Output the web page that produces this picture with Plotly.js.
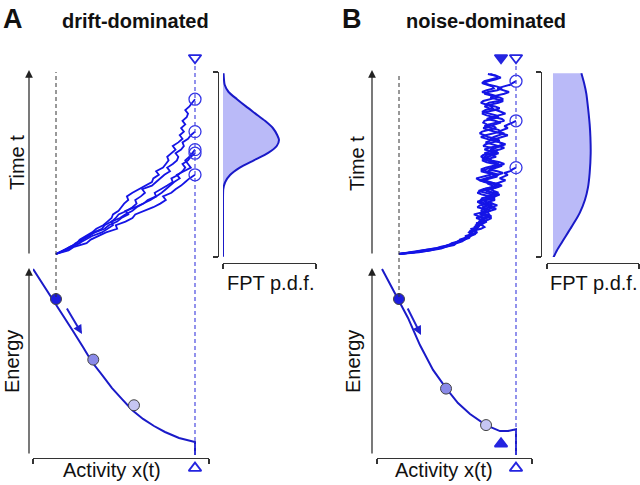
<!DOCTYPE html>
<html><head><meta charset="utf-8">
<script src="https://cdn.plot.ly/plotly-3.0.1.min.js"></script>
<style>html,body{margin:0;padding:0;background:#fff}#chart{width:640px;height:485px}</style>
</head><body><div id="chart"></div>
<script>
// ---------------- DATA ----------------
// time grids (normalised time, 1 = top of the time axis)
const tA = [0,0.02,0.04,0.06,0.08,0.10,0.12,0.14,0.16,0.18,0.20,0.22,0.24,0.26,0.28,0.30,0.32,0.34,0.36,0.38,0.40,0.42,0.44,0.46,0.48,0.50,0.52,0.54,0.56,0.58,0.60,0.62,0.64,0.66,0.68,0.70,0.72,0.74,0.76,0.78,0.80,0.82,0.84,0.86];
const tB = [0,0.01,0.02,0.03,0.04,0.05,0.06,0.07,0.08,0.09,0.10,0.11,0.12,0.13,0.14,0.15,0.16,0.17,0.18,0.19,0.20,0.21,0.22,0.23,0.24,0.25,0.26,0.27,0.28,0.29,0.30,0.31,0.32,0.33,0.34,0.35,0.36,0.37,0.38,0.39,0.40,0.41,0.42,0.43,0.44,0.45,0.46,0.47,0.48,0.49,0.50,0.51,0.52,0.53,0.54,0.55,0.56,0.57,0.58,0.59,0.60,0.61,0.62,0.63,0.64,0.65,0.66,0.67,0.68,0.69,0.70,0.71,0.72,0.73,0.74,0.75,0.76,0.77,0.78,0.79,0.80,0.81,0.82,0.83,0.84,0.85,0.86,0.87,0.88,0.89,0.90,0.91,0.92,0.93,0.94,0.95,0.96,0.97,0.98,0.99,1.00];

// drift-dominated activity traces (0 = start, 1 = threshold)
const walkA1 = [0,0.09,0.13,0.22,0.25,0.31,0.36,0.44,0.43,0.50,0.55,0.57,0.64,0.70,0.75,0.79,0.77,0.83,0.86,0.90,0.93,0.96,1.0];
const walkA2 = [0,0.07,0.12,0.17,0.21,0.26,0.33,0.37,0.41,0.40,0.46,0.50,0.55,0.58,0.63,0.66,0.72,0.71,0.76,0.80,0.84,0.83,0.88,0.91,0.93,0.91,0.95,0.97,1.0];
const walkA3 = [0,0.05,0.11,0.14,0.19,0.24,0.28,0.35,0.38,0.44,0.47,0.52,0.50,0.57,0.63,0.68,0.72,0.76,0.79,0.82,0.85,0.89,0.87,0.92,0.97,0.95,0.93,0.96,0.98,1.0];
const walkA4 = [0,0.06,0.10,0.17,0.19,0.24,0.27,0.33,0.35,0.40,0.43,0.45,0.51,0.55,0.58,0.57,0.61,0.64,0.62,0.69,0.72,0.75,0.78,0.82,0.80,0.84,0.87,0.88,0.86,0.90,0.92,0.91,0.95,0.97,1.0];
const walkA5 = [0,0.05,0.09,0.15,0.17,0.22,0.26,0.29,0.34,0.37,0.40,0.41,0.45,0.47,0.49,0.52,0.51,0.55,0.60,0.65,0.69,0.70,0.74,0.72,0.77,0.79,0.81,0.80,0.83,0.86,0.84,0.88,0.91,0.89,0.92,0.90,0.93,0.91,0.94,0.95,0.93,0.96,0.98,1.0];

// noise-dominated activity traces
const walkB1 = [0,0.15,0.26,0.33,0.40,0.44,0.49,0.52,0.56,0.58,
  0.61,0.63,0.62,0.66,0.64,0.68,0.66,0.70,0.73,0.69,
  0.72,0.76,0.71,0.74,0.78,0.75,0.71,0.77,0.80,0.76,
  0.82,0.79,0.74,0.80,0.85,0.81,0.78,0.84,0.88,0.83,
  0.87,0.91,0.86,0.89,0.93,0.90,0.95,0.97,1.0];
const walkB2 = [0,0.13,0.24,0.32,0.38,0.43,0.47,0.51,0.54,0.57,
  0.59,0.62,0.60,0.64,0.67,0.65,0.69,0.72,0.68,0.71,
  0.75,0.79,0.74,0.70,0.73,0.77,0.81,0.78,0.74,0.69,
  0.72,0.76,0.80,0.84,0.79,0.75,0.78,0.83,0.87,0.82,
  0.77,0.73,0.76,0.81,0.85,0.80,0.76,0.79,0.84,0.88,
  0.84,0.79,0.75,0.71,0.76,0.80,0.85,0.82,0.78,0.83,
  0.87,0.91,0.86,0.82,0.78,0.81,0.86,0.90,0.85,0.89,
  0.93,0.90,0.94,0.97,1.0];
const walkB3 = [0,0.17,0.26,0.36,0.40,0.47,0.49,0.54,0.56,0.60,
  0.61,0.65,0.66,0.64,0.70,0.73,0.71,0.66,0.70,0.76,
  0.79,0.75,0.69,0.72,0.78,0.83,0.80,0.74,0.70,0.67,
  0.71,0.78,0.82,0.86,0.81,0.75,0.72,0.77,0.84,0.80,
  0.73,0.69,0.74,0.81,0.85,0.89,0.84,0.77,0.81,0.87,
  0.82,0.75,0.71,0.76,0.83,0.79,0.73,0.78,0.86,0.90,
  0.85,0.79,0.74,0.78,0.84,0.88,0.93,0.87,0.80,0.76,
  0.72,0.77,0.83,0.87,0.82,0.75,0.79,0.86,0.91,0.87,
  0.83,0.77,0.73,0.78,0.85,0.89,0.84,0.78,0.83,0.90,
  0.94,0.89,0.84,0.89,0.95,0.97,1.0];
const walkB4 = [0,0.13,0.20,0.31,0.36,0.43,0.45,0.51,0.52,0.57,
  0.57,0.62,0.60,0.61,0.67,0.65,0.66,0.72,0.75,0.71,
  0.66,0.70,0.77,0.76,0.70,0.72,0.79,0.84,0.80,0.73,
  0.75,0.82,0.78,0.71,0.67,0.70,0.77,0.83,0.87,0.84,
  0.76,0.72,0.77,0.84,0.82,0.77,0.70,0.74,0.79,0.86,
  0.90,0.86,0.79,0.77,0.73,0.75,0.83,0.80,0.73,0.77,
  0.85,0.89,0.86,0.80,0.74,0.70,0.74,0.80,0.87,0.85,
  0.79,0.73,0.77,0.84,0.90,0.88,0.81,0.75,0.71,0.75,
  0.82,0.86,0.82,0.74,0.77,0.85,0.89,0.86,0.79,0.73,
  0.76,0.84,0.88,0.84,0.77,0.72,0.76,0.83,0.87,0.83,0.76];
const walkB5 = [0,0.11,0.23,0.30,0.39,0.42,0.48,0.50,0.56,0.57,
  0.61,0.62,0.67,0.63,0.62,0.68,0.69,0.66,0.73,0.71,
  0.72,0.68,0.64,0.70,0.74,0.73,0.67,0.69,0.77,0.75,
  0.70,0.71,0.78,0.80,0.74,0.68,0.72,0.79,0.80,0.76,
  0.75,0.69,0.66,0.71,0.78,0.79,0.75,0.70,0.74,0.81,
  0.85,0.82,0.78,0.77,0.70,0.72,0.78,0.84,0.80,0.79,
  0.72,0.74,0.80,0.86,0.83,0.76,0.73,0.69,0.71,0.77,
  0.83,0.81,0.75,0.72,0.73,0.79,0.85,0.83,0.76,0.71,
  0.74,0.80,0.79,0.74,0.70,0.72,0.78,0.84,0.82,0.77,
  0.71,0.75,0.81,0.80,0.76,0.71,0.73,0.79,0.84,0.83,0.78];

// first-passage events (threshold crossings)
const crossA_t = [0.44,0.56,0.58,0.68,0.86];
const crossB_t = [0.48,0.74,0.96];
const threshold = 1;
const startX = 0;

// first-passage-time densities
const fptA_t   = [-0.015,0.10,0.20,0.30,0.36,0.40,0.44,0.48,0.52,0.56,0.60,0.633,0.66,0.70,0.74,0.78,0.82,0.86,0.90,0.94,1.004];
const fptA_pdf = [0,0,0,0,0.005,0.04,0.13,0.30,0.55,0.80,0.96,1.0,0.97,0.89,0.75,0.58,0.41,0.25,0.10,0.03,0.01];
const fptB_t   = [-0.024,0.02,0.06,0.10,0.14,0.18,0.23,0.30,0.37,0.45,0.56,0.65,0.72,0.80,0.89,0.95,1.004];
const fptB_pdf = [0,0.07,0.15,0.23,0.31,0.39,0.48,0.57,0.625,0.655,0.673,0.668,0.655,0.63,0.596,0.555,0.507];

// energy landscapes
const energyA_x = [-0.165,-0.094,-0.022,0.050,0.122,0.194,0.259,0.331,0.403,0.475,0.547,0.626,0.705,0.784,0.885,1.0,1.0];
const energyA_E = [0.995,0.914,0.834,0.749,0.663,0.578,0.497,0.428,0.358,0.299,0.241,0.193,0.155,0.123,0.091,0.070,0];
const energyB_x = [-0.145,-0.077,-0.009,0.077,0.179,0.291,0.402,0.504,0.607,0.744,0.863,0.932,1.0,1.0];
const energyB_E = [0.995,0.914,0.834,0.733,0.588,0.455,0.358,0.278,0.219,0.160,0.128,0.128,0.138,0];

// balls on the landscape
const ballsA_x = [0,0.268,0.561];
const ballsA_E = [0.834,0.51,0.266];
const ballsB_x = [0,0.402,0.744];
const ballsB_E = [0.834,0.355,0.160];
const ballColors = ['#1c1ce0','#8a8ae8','#c6c6f2'];

// drift arrows (tail -> head) in landscape coordinates
const driftA = {x0:0.072, E0:0.791, x1:0.187, E1:0.647};
const driftB = {x0:0.068, E0:0.791, x1:0.188, E1:0.642};

// attractor (noise-dominated) and arrow-marker levels
const attractorB_x = 0.872;
const attractorB_E = 0.06;
const markerTopT = 1.09;
const markerBottomE = -0.07;

// ---------------- LAYOUT HELPERS ----------------
const W = 640, H = 485;
const X = p => p / W;
const Y = p => 1 - p / H;

const blue = '#1414e6';
const curveBlue = '#1a1ac8';
const font = "Arial, 'Liberation Sans', sans-serif";

function hidden(extra){ return Object.assign({visible:false, fixedrange:true}, extra); }
function bracket(extra){
  return Object.assign({visible:true, showline:true, linecolor:'#333', linewidth:1.2,
    ticks:'outside', ticklen:5, tickwidth:1.2, tickcolor:'#333', tickmode:'array',
    showticklabels:false, showgrid:false, zeroline:false, fixedrange:true}, extra);
}

const traces = [];
function walks(list, t, xa, ya, w){
  list.forEach(xs => traces.push({type:'scatter', mode:'lines', x:xs, y:t.slice(0, xs.length),
    xaxis:xa, yaxis:ya, line:{color:blue, width:w}, cliponaxis:false, hoverinfo:'skip'}));
}
walks([walkA5,walkA4,walkA3,walkA2,walkA1], tA, 'x', 'y', 1.8);
walks([walkB5,walkB4,walkB3,walkB2,walkB1], tB, 'x4', 'y4', 2.0);

// crossing circles
traces.push({type:'scatter', mode:'markers', x:crossA_t.map(()=>threshold), y:crossA_t, xaxis:'x', yaxis:'y',
  marker:{symbol:'circle-open', size:12, color:'#3434e6', line:{width:1.3}}, cliponaxis:false});
traces.push({type:'scatter', mode:'markers', x:crossB_t.map(()=>threshold), y:crossB_t, xaxis:'x4', yaxis:'y4',
  marker:{symbol:'circle-open', size:12, color:'#3434e6', line:{width:1.3}}, cliponaxis:false});

// threshold / attractor arrow markers
const mk = {size:11, color:'#2424e0', line:{width:1.8, color:'#2424e0'}};
traces.push({type:'scatter', mode:'markers', x:[threshold], y:[markerTopT], xaxis:'x', yaxis:'y',
  marker:Object.assign({symbol:'triangle-down-open'}, mk), cliponaxis:false});
traces.push({type:'scatter', mode:'markers', x:[threshold], y:[markerBottomE], xaxis:'x2', yaxis:'y2',
  marker:Object.assign({symbol:'triangle-up-open'}, mk), cliponaxis:false});
traces.push({type:'scatter', mode:'markers', x:[attractorB_x, threshold], y:[markerTopT, markerTopT], xaxis:'x4', yaxis:'y4',
  marker:Object.assign({symbol:['triangle-down','triangle-down-open']}, mk), cliponaxis:false});
traces.push({type:'scatter', mode:'markers', x:[attractorB_x, threshold], y:[attractorB_E, markerBottomE], xaxis:'x5', yaxis:'y5',
  marker:Object.assign({symbol:['triangle-up','triangle-up-open']}, mk), cliponaxis:false});

// FPT densities
traces.push({type:'scatter', mode:'lines', x:fptA_pdf, y:fptA_t, xaxis:'x3', yaxis:'y3', fill:'tozerox',
  fillcolor:'rgba(160,160,245,0.72)', line:{color:curveBlue, width:2, shape:'spline', smoothing:0.6}, cliponaxis:false});
traces.push({type:'scatter', mode:'lines', x:fptB_pdf, y:fptB_t, xaxis:'x6', yaxis:'y6', fill:'tozerox',
  fillcolor:'rgba(160,160,245,0.72)', line:{color:curveBlue, width:2, shape:'spline', smoothing:0.6}, cliponaxis:false});

// energy landscapes
traces.push({type:'scatter', mode:'lines', x:energyA_x, y:energyA_E, xaxis:'x2', yaxis:'y2',
  line:{color:curveBlue, width:2}, cliponaxis:false});
traces.push({type:'scatter', mode:'lines', x:energyB_x, y:energyB_E, xaxis:'x5', yaxis:'y5',
  line:{color:curveBlue, width:2}, cliponaxis:false});
traces.push({type:'scatter', mode:'markers', x:ballsA_x, y:ballsA_E, xaxis:'x2', yaxis:'y2',
  marker:{size:11, color:ballColors, line:{color:'#444', width:1}}, cliponaxis:false});
traces.push({type:'scatter', mode:'markers', x:ballsB_x, y:ballsB_E, xaxis:'x5', yaxis:'y5',
  marker:{size:11, color:ballColors, line:{color:'#444', width:1}}, cliponaxis:false});

// ---------------- AXES ----------------
const layout = {
  width:W, height:H, margin:{l:0,r:0,t:0,b:0}, showlegend:false,
  paper_bgcolor:'#fff', plot_bgcolor:'rgba(0,0,0,0)',
  font:{family:font, color:'#111'},
  // A: time vs activity
  xaxis: hidden({domain:[X(20),X(215)], range:[-0.259,1.1439], anchor:'y'}),
  yaxis: hidden({domain:[Y(260),Y(45)], range:[-0.0333,1.1611], anchor:'x'}),
  // A: energy
  xaxis2: bracket({domain:[X(33),X(209)], range:[-0.1655,1.1007], anchor:'free', position:Y(458), tickvals:[-0.1655,1.1007]}),
  yaxis2: hidden({domain:[Y(478),Y(262)], range:[-0.123,1.032], anchor:'x2'}),
  // A: FPT
  xaxis3: bracket({domain:[X(223),X(316)], range:[0,1.661], anchor:'free', position:Y(263), tickvals:[0,1.661]}),
  yaxis3: bracket({domain:[Y(257),Y(72)], range:[-0.0167,1.0111], anchor:'free', position:X(218), tickvals:[-0.0167,1.0111]}),
  // B: time vs activity
  xaxis4: hidden({domain:[X(363),X(538)], range:[-0.3077,1.188], anchor:'y4'}),
  yaxis4: hidden({domain:[Y(260),Y(45)], range:[-0.0333,1.1611], anchor:'x4'}),
  // B: energy
  xaxis5: bracket({domain:[X(377),X(532)], range:[-0.188,1.1368], anchor:'free', position:Y(458), tickvals:[-0.188,1.1368]}),
  yaxis5: hidden({domain:[Y(478),Y(262)], range:[-0.123,1.032], anchor:'x5'}),
  // B: FPT
  xaxis6: bracket({domain:[X(547),X(639)], range:[-0.107,1.536], anchor:'free', position:Y(263), tickvals:[-0.107,1.536]}),
  yaxis6: bracket({domain:[Y(257),Y(72)], range:[-0.0167,1.0111], anchor:'free', position:X(541), tickvals:[-0.0167,1.0111]}),
  shapes: [
    {type:'line', xref:'x', yref:'paper', x0:startX, x1:startX, y0:Y(297), y1:Y(72), line:{color:'#333', width:1, dash:'4px,3px'}},
    {type:'line', xref:'x', yref:'paper', x0:threshold, x1:threshold, y0:Y(455), y1:Y(64), line:{color:'#4a4ae0', width:1.2, dash:'4px,3px'}},
    {type:'line', xref:'x4', yref:'paper', x0:startX, x1:startX, y0:Y(297), y1:Y(74), line:{color:'#333', width:1, dash:'4px,3px'}},
    {type:'line', xref:'x4', yref:'paper', x0:threshold, x1:threshold, y0:Y(455), y1:Y(64), line:{color:'#4a4ae0', width:1.2, dash:'4px,3px'}}
  ],
  annotations: []
};

const ann = layout.annotations;
// axis arrows (time and energy)
[[29,70,185],[29,268,187],[372,70,185],[372,268,187]].forEach(([px,py,len]) => ann.push({
  xref:'paper', yref:'paper', x:X(px), y:Y(py), ax:0, ay:len, text:'', showarrow:true,
  arrowhead:2, arrowsize:1.3, arrowwidth:1.2, arrowcolor:'#222'}));
// drift arrows along the landscape
[[driftA,'x2','y2'],[driftB,'x5','y5']].forEach(([d,xa,ya]) => ann.push({
  xref:xa, yref:ya, axref:xa, ayref:ya, x:d.x1, y:d.E1, ax:d.x0, ay:d.E0, text:'', showarrow:true,
  arrowhead:2, arrowsize:0.9, arrowwidth:2, arrowcolor:'#2020d0'}));
// texts
function txt(t, px, py, size, extra){
  ann.push(Object.assign({xref:'paper', yref:'paper', x:X(px), y:Y(py), text:t, showarrow:false,
    xanchor:'center', yanchor:'middle', font:{family:font, size:size, color:'#111'}}, extra||{}));
}
txt('<b>A</b>', 13, 19, 27);
txt('<b>drift-dominated</b>', 135, 21, 20);
txt('<b>B</b>', 352, 19, 27);
txt('<b>noise-dominated</b>', 486, 21, 20);
txt('Time t', 17, 163, 20, {textangle:-90});
txt('Time t', 357, 164, 20, {textangle:-90});
txt('Energy', 12, 362, 20, {textangle:-90});
txt('Energy', 353, 362, 20, {textangle:-90});
txt('Activity x(t)', 112, 470, 20);
txt('Activity x(t)', 444, 470, 20);
txt('FPT p.d.f.', 270, 283, 20);
txt('FPT p.d.f.', 593, 283, 20);

Plotly.newPlot('chart', traces, layout, {displayModeBar:false, staticPlot:true});
</script>
</body></html>
